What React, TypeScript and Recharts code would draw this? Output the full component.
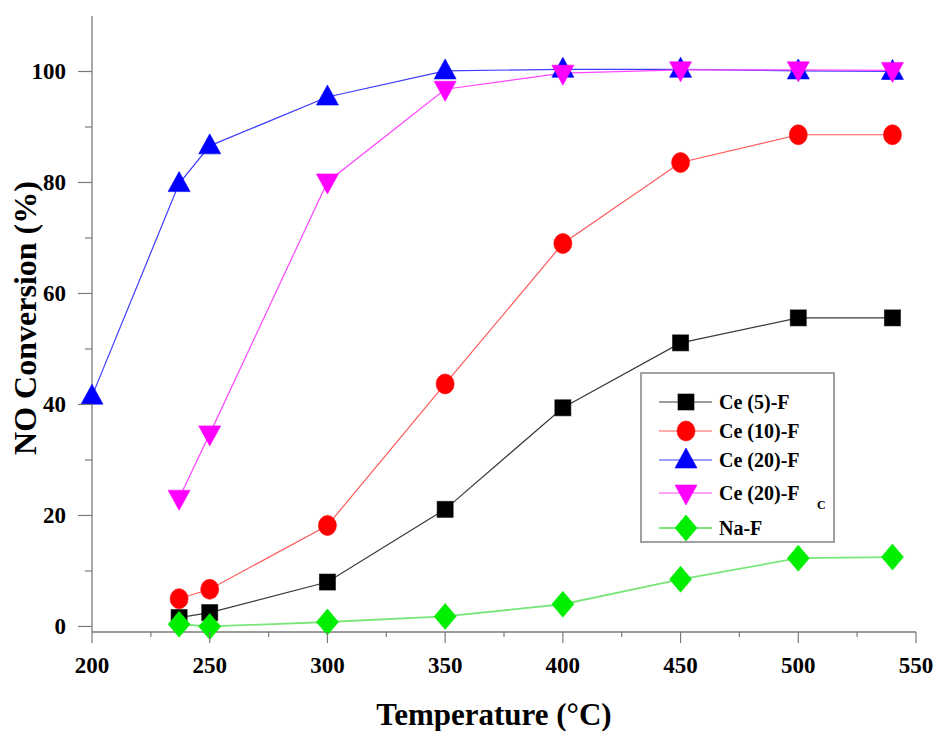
import React from 'react';
import { LineChart, Line, XAxis, YAxis, Legend, Label } from 'recharts';

// temperatures (°C) and NO conversion (%)
const temps = [200, 237, 250, 300, 350, 400, 450, 500, 540];
const ce5 = [null, 1.6, 2.5, 8.0, 21.1, 39.4, 51.1, 55.6, 55.6];
const ce10 = [null, 5.0, 6.7, 18.2, 43.7, 69.0, 83.6, 88.6, 88.6];
const ce20 = [41.5, 79.8, 86.6, 95.4, 100.1, 100.4, 100.4, 100.1, 100.0];
const ce20c = [null, 23.1, 34.7, 80.1, 96.8, 99.7, 100.3, 100.3, 100.2];
const naF = [null, 0.4, 0.0, 0.8, 1.8, 4.0, 8.5, 12.3, 12.5];

const xMajor = [200, 250, 300, 350, 400, 450, 500, 550];
const xMinor = [225, 275, 325, 375, 425, 475, 525];
const yMajor = [0, 20, 40, 60, 80, 100];
const yMinor = [10, 30, 50, 70, 90];

const FONT = "'Liberation Serif', Tinos, 'Times New Roman', 'DejaVu Serif', serif";
const AXIS = '#7a7a7a';
const txt = { fontFamily: FONT, fontWeight: 700 } as const;

const series = [
  { key: 'ce5', name: 'Ce (5)-F', sub: '', values: ce5, line: '#3a3a3a', fill: '#000000', shape: 'square', w: 1.2 },
  { key: 'ce10', name: 'Ce (10)-F', sub: '', values: ce10, line: '#ff5a5a', fill: '#ff0000', shape: 'circle', w: 1.2 },
  { key: 'ce20', name: 'Ce (20)-F', sub: '', values: ce20, line: '#3c3cff', fill: '#0000ff', shape: 'up', w: 1.2 },
  { key: 'ce20c', name: 'Ce (20)-F', sub: 'C', values: ce20c, line: '#ff44ff', fill: '#ff00ff', shape: 'down', w: 1.2 },
  { key: 'naF', name: 'Na-F', sub: '', values: naF, line: '#7ae67a', fill: '#00ee00', shape: 'diamond', w: 1.8 },
];

const data = temps.map((t, i) => {
  const row: Record<string, number | null> = { t };
  series.forEach(s => { row[s.key] = s.values[i]; });
  return row;
});

function Marker({ shape, cx, cy, fill }: { shape: string; cx: number; cy: number; fill: string }) {
  const common = { fill, stroke: fill, strokeWidth: 1, strokeOpacity: 0.6 };
  if (shape === 'square') return <rect x={cx - 8} y={cy - 8} width={16} height={16} {...common} />;
  if (shape === 'circle') return <ellipse cx={cx} cy={cy} rx={9} ry={10} {...common} />;
  if (shape === 'up') return <polygon points={`${cx},${cy - 12} ${cx - 11},${cy + 8} ${cx + 11},${cy + 8}`} {...common} />;
  if (shape === 'down') return <polygon points={`${cx},${cy + 12} ${cx - 11},${cy - 8} ${cx + 11},${cy - 8}`} {...common} />;
  return <polygon points={`${cx},${cy - 13} ${cx + 11},${cy} ${cx},${cy + 13} ${cx - 11},${cy}`} {...common} />;
}

const makeDot = (shape: string, fill: string) => (props: any) => {
  const { cx, cy, index, value } = props;
  if (cx == null || cy == null || value == null) return <g key={`d-${index}`} />;
  return <Marker key={`d-${index}`} shape={shape} cx={cx} cy={cy} fill={fill} />;
};

const XTick = (props: any) => {
  const { x, y, payload } = props;
  const major = xMajor.includes(payload.value);
  return (
    <g>
      <line x1={x} x2={x} y1={y} y2={y + (major ? 11 : 5)} stroke={AXIS} strokeWidth={1.2} />
      {major && (
        <text x={x} y={y + 41} textAnchor="middle" style={{ ...txt, fontSize: 23 }} fill="#000">
          {payload.value}
        </text>
      )}
    </g>
  );
};

const YTick = (props: any) => {
  const { x, y, payload } = props;
  const major = yMajor.includes(payload.value);
  return (
    <g>
      <line x1={x - (major ? 14 : 7)} x2={x} y1={y} y2={y} stroke={AXIS} strokeWidth={1.2} />
      {major && (
        <text x={x - 26} y={y + 8} textAnchor="end" style={{ ...txt, fontSize: 23 }} fill="#000">
          {payload.value}
        </text>
      )}
    </g>
  );
};

const XTitle = (props: any) => {
  const { viewBox } = props;
  return (
    <text x={viewBox.x + viewBox.width / 2 - 10} y={viewBox.y + 93} textAnchor="middle"
      style={{ ...txt, fontSize: 31 }} fill="#000">
      Temperature (°C)
    </text>
  );
};

const YTitle = (props: any) => {
  const { viewBox } = props;
  const cy = viewBox.y + viewBox.height / 2 - 6;
  return (
    <text x={36} y={cy} transform={`rotate(-90, 36, ${cy})`} textAnchor="middle"
      style={{ ...txt, fontSize: 32 }} fill="#000">
      NO Conversion (%)
    </text>
  );
};

const legendRows = [30, 59, 88, 121, 156];

const LegendBox = () => (
  <svg width={196} height={172} style={{ display: 'block' }}>
    <rect x={1} y={1} width={193} height={169} fill="#fff" stroke="#8a8a8a" strokeWidth={1.6} />
    {series.map((s, i) => {
      const y = legendRows[i];
      return (
        <g key={s.key}>
          <line x1={19} x2={72} y1={y} y2={y} stroke={s.line} strokeWidth={s.w} />
          <Marker shape={s.shape} cx={46} cy={y} fill={s.fill} />
          <text x={79} y={y + 7} style={{ ...txt, fontSize: 20 }} fill="#000">
            {s.name}
          </text>
          {s.sub && (
            <text x={177} y={y + 16} style={{ ...txt, fontSize: 12 }} fill="#000">
              {s.sub}
            </text>
          )}
        </g>
      );
    })}
  </svg>
);

export default function App() {
  return (
    <div style={{ position: 'absolute', left: 0, top: 0, width: 934, height: 731, background: '#fff' }}>
      <LineChart width={934} height={731} data={data} margin={{ top: 16, right: 18, left: 32, bottom: 39 }}>
        <XAxis dataKey="t" type="number" domain={[200, 550]} ticks={[...xMajor, ...xMinor].sort((a, b) => a - b)}
          interval={0} height={60} tickSize={0} tickMargin={0} tickLine={false} tick={<XTick />}
          axisLine={{ stroke: AXIS, strokeWidth: 1.3 }}>
          <Label content={<XTitle />} />
        </XAxis>
        <XAxis xAxisId="top" orientation="top" dataKey="t" type="number" domain={[200, 550]} ticks={xMinor.concat([250, 300, 350, 400, 450, 500])}
          interval={0} height={0} mirror tick={false} tickSize={4} tickLine={{ stroke: AXIS }}
          axisLine={{ stroke: AXIS, strokeWidth: 1.3 }} />
        <YAxis type="number" domain={[-1, 110]} ticks={[...yMajor, ...yMinor].sort((a, b) => a - b)}
          interval={0} width={60} tickSize={0} tickMargin={0} tickLine={false} tick={<YTick />}
          axisLine={{ stroke: AXIS, strokeWidth: 1.3 }}>
          <Label content={<YTitle />} />
        </YAxis>
        <YAxis yAxisId="right" orientation="right" type="number" domain={[-1, 110]} ticks={[...yMajor, ...yMinor]}
          interval={0} width={0} mirror tick={false} tickSize={4} tickLine={{ stroke: AXIS }}
          axisLine={{ stroke: AXIS, strokeWidth: 1.3 }} />
        {series.map(s => (
          <Line key={s.key} dataKey={s.key} name={s.name} stroke={s.line} strokeWidth={s.w}
            dot={makeDot(s.shape, s.fill)} activeDot={false} isAnimationActive={false} />
        ))}
        <Legend layout="vertical" align="center" verticalAlign="middle" content={<LegendBox />}
          wrapperStyle={{ left: 640, top: 372, width: 196, height: 172 }} />
      </LineChart>
    </div>
  );
}
